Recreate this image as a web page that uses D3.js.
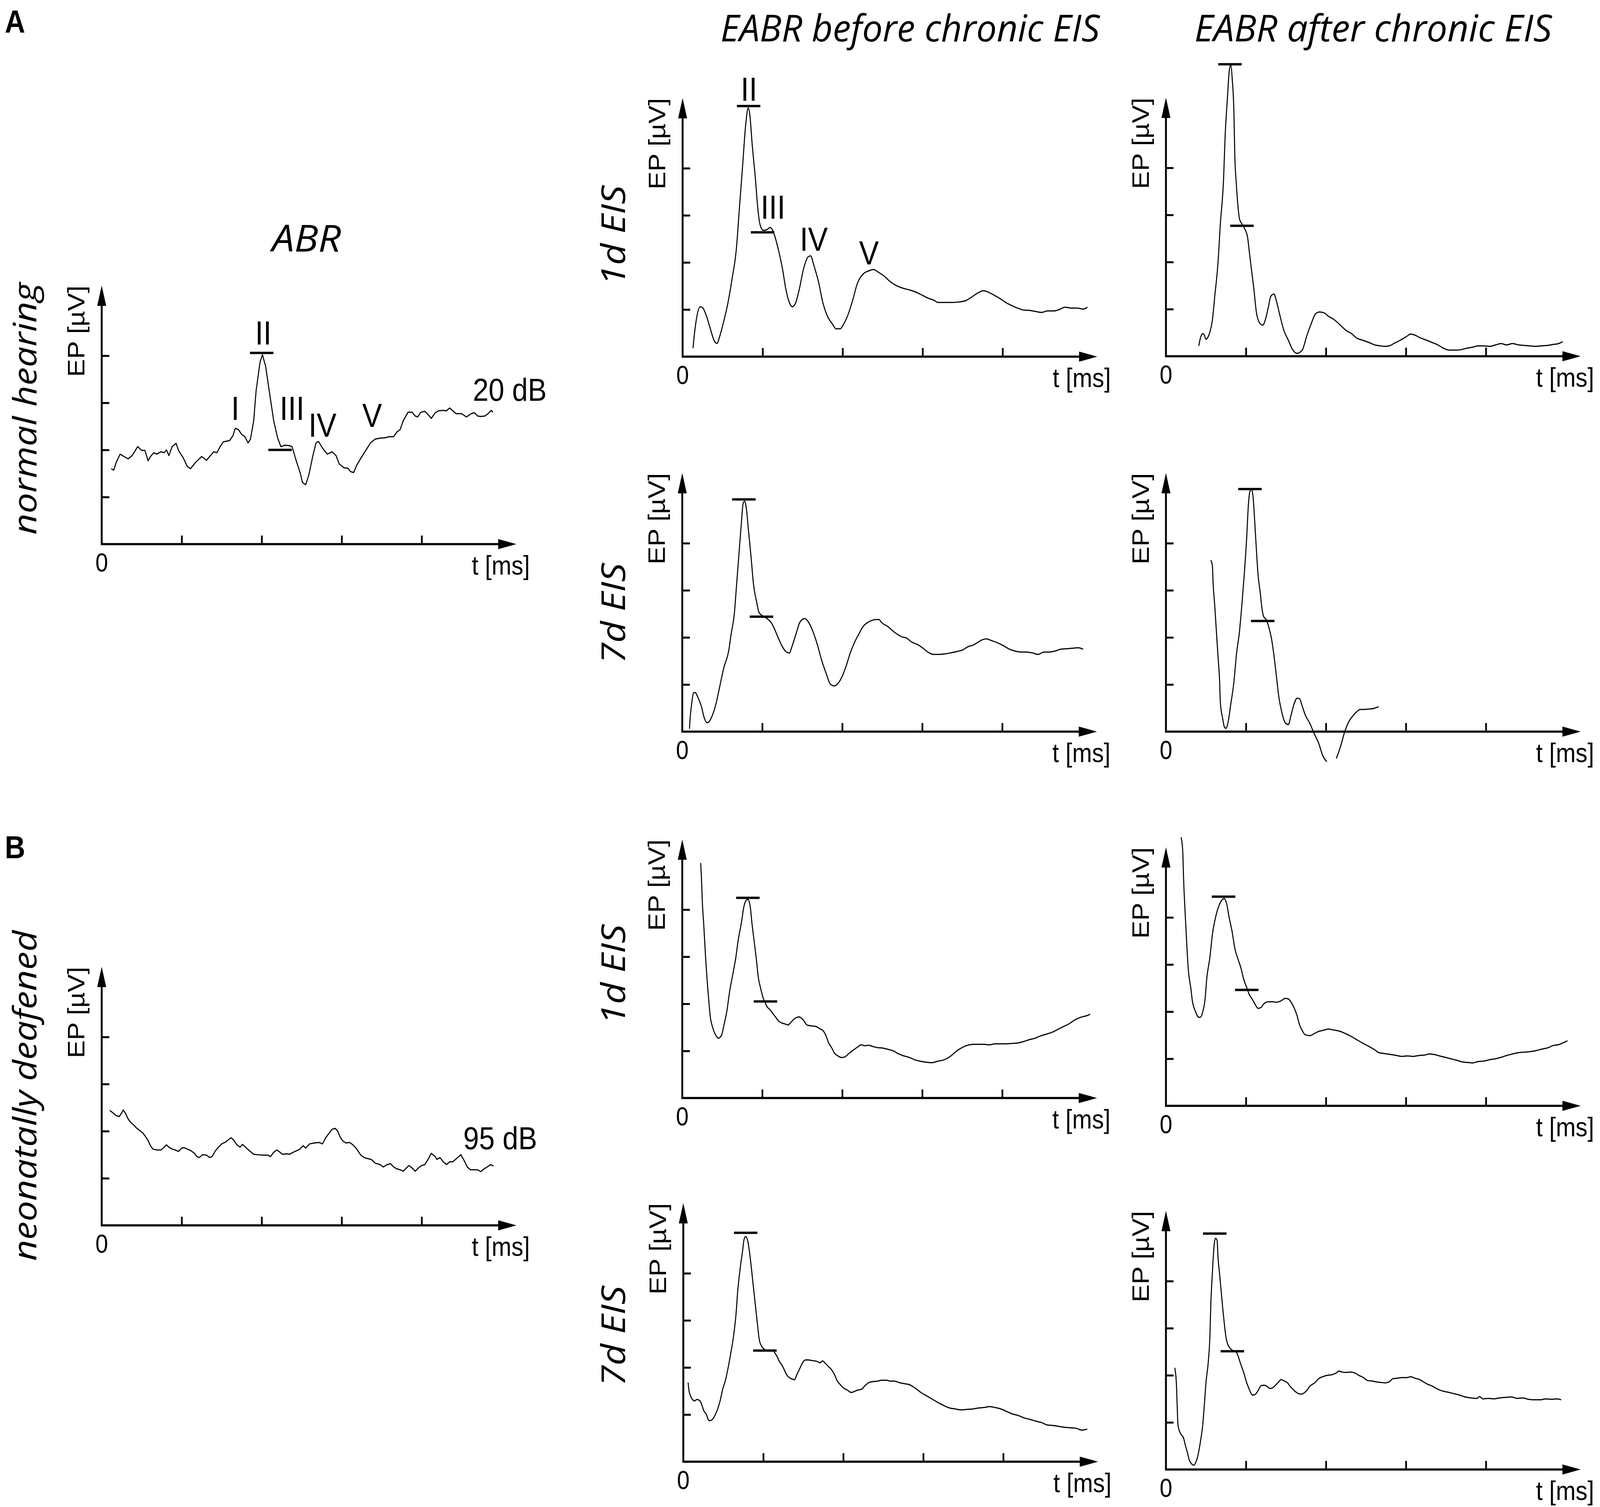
<!DOCTYPE html>
<html>
<head>
<meta charset="utf-8">
<script src="https://cdn.jsdelivr.net/npm/d3@7"></script>
<style>
html, body { margin: 0; padding: 0; background: #fff; overflow: hidden; }
#chart { width: 100vw; height: 100vh; }
svg { display: block; width: 100vw; height: 100vh; }
.ttl { font-family: "Open Sans", "DejaVu Sans", sans-serif; font-style: italic; fill: #000; }
.ax { font-family: "Liberation Sans", Arial, sans-serif; fill: #000; }
</style>
</head>
<body>
<div id="chart"></div>
<script>
// traces, [t, EP] in tick units (1 tick = 1 unit)
const abrNormal = [[0.12,1.60],[0.15,1.57],[0.18,1.73],[0.23,1.91],[0.28,1.86],[0.33,1.81],[0.38,1.88],[0.45,2.07],[0.50,1.99],[0.54,1.99],[0.58,1.77],[0.61,1.86],[0.65,1.94],[0.69,1.91],[0.74,1.96],[0.78,1.94],[0.81,2.00],[0.84,1.88],[0.88,2.07],[0.93,2.14],[0.96,1.99],[1.02,1.83],[1.07,1.65],[1.11,1.60],[1.17,1.73],[1.25,1.86],[1.31,1.78],[1.36,1.88],[1.40,1.96],[1.44,1.94],[1.48,2.07],[1.52,2.17],[1.60,2.20],[1.64,2.30],[1.67,2.46],[1.71,2.43],[1.75,2.33],[1.79,2.28],[1.83,2.15],[1.86,2.23],[1.90,2.62],[1.93,3.25],[1.98,3.87],[2.01,4.02],[2.05,3.77],[2.10,3.19],[2.15,2.62],[2.20,2.25],[2.24,2.07],[2.29,2.10],[2.35,2.09],[2.38,2.07],[2.43,1.78],[2.48,1.52],[2.51,1.31],[2.55,1.26],[2.59,1.47],[2.64,1.88],[2.68,2.15],[2.71,2.18],[2.76,2.04],[2.82,1.91],[2.88,1.96],[2.93,1.88],[2.97,1.70],[3.03,1.62],[3.08,1.61],[3.11,1.54],[3.15,1.52],[3.19,1.68],[3.26,1.88],[3.32,2.04],[3.36,2.15],[3.42,2.23],[3.48,2.25],[3.55,2.26],[3.59,2.28],[3.65,2.28],[3.69,2.38],[3.73,2.43],[3.77,2.62],[3.83,2.80],[3.88,2.80],[3.92,2.72],[3.95,2.70],[3.99,2.80],[4.04,2.82],[4.08,2.75],[4.12,2.67],[4.17,2.79],[4.21,2.83],[4.27,2.84],[4.31,2.83],[4.35,2.89],[4.39,2.83],[4.43,2.77],[4.50,2.77],[4.56,2.70],[4.62,2.77],[4.66,2.79],[4.70,2.72],[4.74,2.71],[4.79,2.72],[4.83,2.77],[4.87,2.84],[4.89,2.80]];

const before1dNormal = [[0.13,0.18],[0.14,0.36],[0.17,0.77],[0.22,1.06],[0.25,1.04],[0.29,0.90],[0.34,0.63],[0.40,0.32],[0.43,0.28],[0.46,0.41],[0.51,0.72],[0.57,1.17],[0.62,1.67],[0.67,2.25],[0.71,3.15],[0.75,4.05],[0.79,4.95],[0.82,5.28],[0.84,5.14],[0.87,4.50],[0.91,3.78],[0.94,3.15],[0.97,2.79],[1.01,2.68],[1.06,2.70],[1.09,2.74],[1.12,2.70],[1.15,2.57],[1.20,2.25],[1.25,1.85],[1.29,1.44],[1.33,1.17],[1.37,1.06],[1.41,1.13],[1.46,1.44],[1.51,1.85],[1.57,2.12],[1.60,2.14],[1.64,1.94],[1.70,1.58],[1.75,1.17],[1.81,0.86],[1.87,0.70],[1.92,0.59],[1.97,0.59],[2.01,0.68],[2.07,0.90],[2.13,1.22],[2.18,1.53],[2.26,1.76],[2.31,1.81],[2.39,1.85],[2.44,1.80],[2.52,1.71],[2.59,1.60],[2.67,1.51],[2.76,1.45],[2.85,1.41],[2.93,1.36],[3.00,1.30],[3.07,1.24],[3.15,1.19],[3.19,1.15],[3.26,1.15],[3.35,1.15],[3.45,1.16],[3.54,1.19],[3.61,1.26],[3.69,1.35],[3.76,1.40],[3.82,1.37],[3.89,1.31],[3.97,1.23],[4.04,1.15],[4.12,1.08],[4.19,1.03],[4.26,0.99],[4.34,0.98],[4.41,0.96],[4.49,0.94],[4.56,0.97],[4.64,0.97],[4.71,1.00],[4.78,1.05],[4.86,1.03],[4.93,1.03],[5.01,1.01],[5.06,1.05]];

const after1dNormal = [[0.41,0.22],[0.43,0.38],[0.46,0.48],[0.48,0.45],[0.50,0.36],[0.52,0.39],[0.55,0.52],[0.58,0.76],[0.61,1.27],[0.65,1.97],[0.68,2.81],[0.72,3.75],[0.74,4.68],[0.77,5.52],[0.79,6.04],[0.81,6.18],[0.83,5.85],[0.85,5.15],[0.86,4.31],[0.88,3.65],[0.90,3.19],[0.92,2.91],[0.95,2.81],[0.98,2.72],[1.02,2.53],[1.04,2.25],[1.07,1.83],[1.10,1.41],[1.13,0.94],[1.17,0.71],[1.21,0.66],[1.24,0.76],[1.28,1.04],[1.31,1.27],[1.35,1.32],[1.38,1.18],[1.42,0.90],[1.47,0.57],[1.53,0.34],[1.58,0.15],[1.64,0.06],[1.67,0.08],[1.71,0.15],[1.76,0.43],[1.82,0.71],[1.87,0.90],[1.92,0.94],[1.98,0.92],[2.03,0.85],[2.10,0.78],[2.18,0.66],[2.25,0.55],[2.32,0.48],[2.39,0.38],[2.46,0.34],[2.54,0.29],[2.61,0.24],[2.68,0.22],[2.73,0.21],[2.79,0.22],[2.86,0.28],[2.93,0.34],[3.00,0.41],[3.06,0.47],[3.11,0.45],[3.18,0.39],[3.26,0.34],[3.33,0.29],[3.40,0.24],[3.47,0.17],[3.54,0.13],[3.62,0.13],[3.69,0.14],[3.76,0.17],[3.83,0.19],[3.90,0.22],[3.97,0.22],[4.05,0.21],[4.12,0.24],[4.19,0.27],[4.26,0.24],[4.33,0.27],[4.41,0.24],[4.48,0.23],[4.55,0.22],[4.62,0.21],[4.69,0.22],[4.77,0.23],[4.84,0.25],[4.91,0.27],[4.96,0.31]];

const before7dNormal = [[0.09,0.06],[0.10,0.32],[0.12,0.62],[0.14,0.82],[0.16,0.83],[0.20,0.71],[0.24,0.53],[0.27,0.32],[0.31,0.19],[0.33,0.20],[0.37,0.32],[0.42,0.58],[0.47,0.97],[0.52,1.36],[0.58,1.71],[0.61,2.06],[0.65,2.49],[0.68,3.14],[0.71,3.80],[0.74,4.45],[0.76,4.84],[0.78,4.89],[0.80,4.75],[0.83,4.23],[0.86,3.71],[0.89,3.14],[0.93,2.75],[0.96,2.53],[1.01,2.45],[1.06,2.40],[1.11,2.32],[1.15,2.19],[1.19,2.03],[1.24,1.84],[1.29,1.71],[1.34,1.67],[1.37,1.80],[1.42,2.06],[1.47,2.32],[1.53,2.40],[1.58,2.32],[1.63,2.14],[1.69,1.84],[1.74,1.53],[1.80,1.23],[1.85,1.01],[1.90,0.97],[1.94,1.01],[1.99,1.14],[2.05,1.40],[2.10,1.67],[2.15,1.88],[2.21,2.08],[2.26,2.23],[2.32,2.32],[2.37,2.36],[2.42,2.38],[2.46,2.38],[2.49,2.32],[2.57,2.23],[2.66,2.10],[2.75,2.01],[2.80,1.99],[2.87,1.90],[2.94,1.85],[3.01,1.77],[3.07,1.69],[3.14,1.64],[3.21,1.64],[3.28,1.65],[3.35,1.67],[3.43,1.70],[3.50,1.73],[3.57,1.80],[3.64,1.84],[3.70,1.90],[3.75,1.95],[3.80,1.97],[3.87,1.93],[3.95,1.88],[4.02,1.82],[4.09,1.75],[4.16,1.71],[4.23,1.69],[4.30,1.69],[4.38,1.67],[4.45,1.64],[4.52,1.69],[4.59,1.69],[4.66,1.71],[4.73,1.75],[4.81,1.76],[4.88,1.77],[4.95,1.78],[5.01,1.75]];

// this trace is broken near its trough (null marks the gap)
const after7dNormal = [[0.56,3.64],[0.58,3.53],[0.59,3.14],[0.61,2.67],[0.63,2.14],[0.65,1.62],[0.67,1.10],[0.68,0.62],[0.71,0.27],[0.73,0.10],[0.75,0.07],[0.78,0.23],[0.81,0.58],[0.85,1.06],[0.88,1.62],[0.92,2.14],[0.95,2.71],[0.98,3.36],[1.01,4.14],[1.03,4.80],[1.05,5.10],[1.07,5.14],[1.09,4.97],[1.11,4.45],[1.13,3.88],[1.15,3.36],[1.18,2.93],[1.20,2.62],[1.22,2.45],[1.26,2.36],[1.29,2.19],[1.32,1.97],[1.35,1.62],[1.38,1.19],[1.41,0.75],[1.45,0.40],[1.49,0.19],[1.53,0.15],[1.56,0.32],[1.60,0.58],[1.64,0.71],[1.67,0.70],[1.70,0.56],[1.74,0.36],[1.80,0.17],[1.85,-0.03],[1.91,-0.25],[1.96,-0.51],[2.01,-0.64],null,[2.13,-0.57],[2.18,-0.33],[2.23,-0.03],[2.28,0.19],[2.34,0.34],[2.39,0.43],[2.43,0.47],[2.48,0.47],[2.54,0.48],[2.59,0.49],[2.66,0.53]];

const abrDeaf = [[0.10,2.44],[0.14,2.39],[0.18,2.33],[0.22,2.31],[0.25,2.39],[0.27,2.45],[0.30,2.37],[0.33,2.26],[0.36,2.19],[0.40,2.13],[0.44,2.06],[0.47,2.02],[0.51,1.97],[0.55,1.88],[0.58,1.80],[0.61,1.69],[0.64,1.62],[0.69,1.60],[0.74,1.60],[0.78,1.66],[0.81,1.71],[0.84,1.66],[0.88,1.62],[0.92,1.60],[0.96,1.57],[1.00,1.64],[1.03,1.65],[1.07,1.62],[1.12,1.58],[1.16,1.53],[1.19,1.46],[1.22,1.44],[1.26,1.50],[1.31,1.49],[1.35,1.44],[1.38,1.46],[1.42,1.58],[1.46,1.66],[1.50,1.73],[1.55,1.77],[1.60,1.84],[1.62,1.86],[1.65,1.81],[1.69,1.71],[1.73,1.66],[1.76,1.72],[1.81,1.64],[1.85,1.58],[1.90,1.51],[1.95,1.50],[2.02,1.49],[2.08,1.49],[2.11,1.46],[2.15,1.55],[2.19,1.60],[2.23,1.55],[2.26,1.51],[2.31,1.52],[2.35,1.51],[2.38,1.54],[2.43,1.58],[2.47,1.61],[2.52,1.69],[2.55,1.64],[2.60,1.73],[2.66,1.75],[2.72,1.76],[2.76,1.73],[2.80,1.86],[2.84,1.95],[2.88,2.04],[2.92,2.06],[2.95,2.00],[2.98,1.88],[3.01,1.80],[3.05,1.75],[3.10,1.76],[3.14,1.71],[3.18,1.64],[3.24,1.49],[3.28,1.44],[3.32,1.42],[3.37,1.40],[3.42,1.32],[3.48,1.29],[3.52,1.24],[3.57,1.29],[3.61,1.31],[3.65,1.24],[3.69,1.20],[3.73,1.18],[3.77,1.15],[3.81,1.22],[3.84,1.27],[3.88,1.22],[3.92,1.15],[3.96,1.22],[4.00,1.27],[4.04,1.29],[4.08,1.40],[4.12,1.53],[4.17,1.46],[4.19,1.40],[4.23,1.44],[4.27,1.35],[4.31,1.29],[4.35,1.35],[4.39,1.35],[4.45,1.44],[4.49,1.50],[4.53,1.38],[4.57,1.24],[4.61,1.18],[4.66,1.18],[4.70,1.18],[4.74,1.14],[4.78,1.20],[4.82,1.24],[4.86,1.29],[4.90,1.26]];

const before1dDeaf = [[0.23,4.99],[0.24,4.66],[0.25,4.20],[0.27,3.64],[0.29,3.03],[0.31,2.52],[0.33,2.10],[0.35,1.73],[0.38,1.50],[0.42,1.33],[0.45,1.27],[0.49,1.33],[0.52,1.54],[0.56,1.87],[0.59,2.24],[0.63,2.61],[0.67,2.99],[0.70,3.36],[0.74,3.73],[0.77,4.06],[0.80,4.20],[0.82,4.22],[0.85,4.06],[0.87,3.73],[0.90,3.31],[0.93,2.89],[0.95,2.57],[0.98,2.33],[1.01,2.13],[1.04,2.01],[1.06,1.94],[1.10,1.87],[1.13,1.80],[1.17,1.71],[1.20,1.64],[1.25,1.59],[1.29,1.57],[1.32,1.55],[1.36,1.61],[1.40,1.68],[1.46,1.72],[1.48,1.71],[1.52,1.64],[1.56,1.55],[1.62,1.53],[1.67,1.52],[1.72,1.47],[1.76,1.43],[1.80,1.31],[1.83,1.17],[1.87,1.06],[1.90,0.96],[1.95,0.89],[1.99,0.86],[2.03,0.87],[2.08,0.94],[2.14,1.02],[2.19,1.08],[2.24,1.13],[2.28,1.11],[2.33,1.12],[2.39,1.09],[2.44,1.07],[2.51,1.06],[2.58,1.03],[2.64,1.00],[2.69,0.95],[2.76,0.90],[2.84,0.86],[2.91,0.81],[2.98,0.78],[3.05,0.76],[3.12,0.75],[3.19,0.78],[3.27,0.81],[3.34,0.87],[3.39,0.94],[3.44,1.01],[3.52,1.09],[3.59,1.13],[3.66,1.14],[3.77,1.14],[3.84,1.13],[3.91,1.15],[3.98,1.15],[4.05,1.15],[4.13,1.16],[4.20,1.17],[4.27,1.20],[4.34,1.24],[4.41,1.27],[4.48,1.32],[4.56,1.36],[4.63,1.40],[4.70,1.46],[4.77,1.52],[4.84,1.58],[4.91,1.66],[4.99,1.72],[5.06,1.75],[5.10,1.78]];

const after1dDeaf = [[0.19,5.70],[0.21,5.40],[0.22,4.84],[0.24,4.09],[0.26,3.44],[0.28,2.88],[0.31,2.51],[0.33,2.23],[0.37,2.00],[0.41,1.88],[0.43,1.88],[0.46,2.00],[0.49,2.28],[0.51,2.70],[0.55,3.16],[0.58,3.63],[0.62,4.00],[0.67,4.28],[0.70,4.37],[0.73,4.40],[0.76,4.28],[0.79,4.00],[0.83,3.67],[0.86,3.35],[0.90,3.12],[0.94,2.91],[0.97,2.70],[1.01,2.51],[1.04,2.37],[1.08,2.26],[1.12,2.14],[1.15,2.07],[1.19,2.09],[1.22,2.16],[1.28,2.21],[1.33,2.21],[1.38,2.20],[1.44,2.23],[1.49,2.28],[1.53,2.27],[1.56,2.21],[1.60,2.09],[1.64,1.91],[1.67,1.72],[1.71,1.58],[1.74,1.51],[1.80,1.49],[1.85,1.53],[1.91,1.58],[1.96,1.60],[2.03,1.63],[2.10,1.61],[2.18,1.58],[2.25,1.53],[2.32,1.47],[2.39,1.40],[2.46,1.33],[2.54,1.26],[2.61,1.19],[2.66,1.13],[2.73,1.11],[2.81,1.09],[2.88,1.07],[2.95,1.05],[3.02,1.06],[3.09,1.05],[3.17,1.07],[3.24,1.08],[3.29,1.10],[3.35,1.09],[3.42,1.06],[3.49,1.03],[3.56,1.00],[3.63,0.97],[3.71,0.93],[3.78,0.92],[3.83,0.91],[3.90,0.94],[3.97,0.95],[4.05,0.98],[4.12,1.00],[4.19,1.03],[4.26,1.07],[4.33,1.10],[4.41,1.13],[4.48,1.14],[4.55,1.15],[4.62,1.17],[4.69,1.20],[4.77,1.23],[4.84,1.28],[4.91,1.30],[4.98,1.35],[5.02,1.38]];

const before7dDeaf = [[0.06,1.68],[0.07,1.52],[0.09,1.40],[0.12,1.31],[0.14,1.29],[0.17,1.32],[0.21,1.29],[0.23,1.21],[0.26,1.07],[0.29,1.00],[0.31,0.90],[0.33,0.87],[0.37,0.91],[0.40,1.00],[0.43,1.12],[0.46,1.29],[0.49,1.52],[0.53,1.75],[0.56,1.99],[0.59,2.27],[0.63,2.69],[0.66,3.15],[0.68,3.62],[0.71,4.09],[0.74,4.46],[0.76,4.72],[0.78,4.78],[0.81,4.65],[0.84,4.28],[0.87,3.81],[0.90,3.34],[0.93,2.87],[0.95,2.59],[0.98,2.45],[1.02,2.38],[1.06,2.36],[1.12,2.37],[1.14,2.32],[1.17,2.24],[1.20,2.13],[1.23,2.06],[1.26,1.96],[1.29,1.85],[1.33,1.78],[1.37,1.75],[1.39,1.74],[1.42,1.85],[1.46,1.99],[1.49,2.10],[1.53,2.16],[1.56,2.16],[1.60,2.15],[1.64,2.14],[1.67,2.13],[1.71,2.10],[1.74,2.14],[1.78,2.08],[1.82,2.01],[1.85,1.96],[1.89,1.85],[1.92,1.73],[1.96,1.64],[2.00,1.57],[2.05,1.52],[2.10,1.47],[2.18,1.52],[2.23,1.54],[2.27,1.61],[2.32,1.68],[2.37,1.70],[2.43,1.71],[2.48,1.73],[2.54,1.73],[2.59,1.71],[2.64,1.71],[2.70,1.68],[2.75,1.66],[2.82,1.64],[2.90,1.56],[2.97,1.47],[3.04,1.40],[3.11,1.33],[3.18,1.26],[3.26,1.19],[3.33,1.14],[3.40,1.12],[3.47,1.10],[3.54,1.11],[3.62,1.12],[3.69,1.14],[3.76,1.15],[3.83,1.17],[3.90,1.15],[3.97,1.12],[4.05,1.06],[4.12,1.01],[4.19,0.98],[4.26,0.93],[4.33,0.90],[4.41,0.86],[4.48,0.83],[4.55,0.78],[4.62,0.77],[4.69,0.75],[4.77,0.73],[4.84,0.72],[4.91,0.71],[4.98,0.67],[5.05,0.69]];

const after7dDeaf = [[0.11,2.16],[0.13,1.84],[0.14,1.37],[0.15,0.95],[0.18,0.77],[0.22,0.67],[0.24,0.53],[0.27,0.35],[0.29,0.21],[0.32,0.12],[0.35,0.09],[0.37,0.14],[0.40,0.30],[0.43,0.58],[0.46,0.95],[0.48,1.37],[0.50,1.84],[0.53,2.30],[0.55,2.86],[0.56,3.47],[0.58,4.16],[0.60,4.72],[0.62,4.91],[0.64,4.86],[0.65,4.53],[0.67,4.16],[0.69,3.79],[0.71,3.42],[0.73,3.09],[0.75,2.81],[0.77,2.67],[0.80,2.58],[0.83,2.53],[0.87,2.51],[0.90,2.42],[0.93,2.26],[0.97,2.07],[1.01,1.84],[1.05,1.67],[1.08,1.58],[1.12,1.60],[1.16,1.70],[1.19,1.78],[1.23,1.79],[1.26,1.77],[1.30,1.72],[1.34,1.74],[1.37,1.79],[1.41,1.86],[1.44,1.91],[1.48,1.88],[1.52,1.84],[1.55,1.77],[1.59,1.70],[1.62,1.65],[1.66,1.61],[1.69,1.60],[1.73,1.63],[1.77,1.70],[1.80,1.77],[1.86,1.84],[1.91,1.93],[1.96,1.97],[2.02,2.00],[2.07,2.01],[2.13,2.05],[2.16,2.09],[2.20,2.07],[2.25,2.06],[2.31,2.07],[2.36,2.05],[2.41,2.00],[2.47,1.95],[2.52,1.89],[2.57,1.88],[2.63,1.86],[2.68,1.85],[2.74,1.84],[2.79,1.86],[2.84,1.93],[2.90,1.94],[2.95,1.95],[3.01,1.95],[3.06,1.97],[3.11,1.94],[3.17,1.91],[3.22,1.86],[3.27,1.81],[3.33,1.77],[3.38,1.72],[3.45,1.67],[3.53,1.64],[3.60,1.61],[3.67,1.58],[3.74,1.54],[3.81,1.52],[3.89,1.51],[3.92,1.55],[3.96,1.50],[4.03,1.51],[4.10,1.50],[4.17,1.52],[4.24,1.53],[4.32,1.54],[4.39,1.51],[4.46,1.52],[4.53,1.49],[4.60,1.48],[4.68,1.48],[4.75,1.50],[4.82,1.49],[4.89,1.50],[4.94,1.48]];

// latency markers (wave II peak and wave III), [t, EP]
const abrNormalBars = [[2.0,4.06],[2.23,2.0]];
const before1dNormalBars = [[0.825,5.32],[1.0,2.64]];
const after1dNormalBars = [[0.80,6.20],[0.95,2.77]];
const before7dNormalBars = [[0.77,4.93],[0.99,2.44]];
const after7dNormalBars = [[1.05,5.15],[1.21,2.35]];
const before1dDeafBars = [[0.82,4.25],[1.04,2.05]];
const after1dDeafBars = [[0.72,4.44],[1.01,2.46]];
const before7dDeafBars = [[0.78,4.86],[1.02,2.36]];
const after7dDeafBars = [[0.61,5.01],[0.83,2.51]];

// wave labels [text, t, EP]
const abrNormalWaves = [["I",1.67,2.64],["II",2.02,4.24],["III",2.38,2.64],["IV",2.76,2.28],["V",3.38,2.49]];
const before1dNormalWaves = [["II",0.83,5.43],["III",1.13,2.93],["IV",1.64,2.25],["V",2.33,1.96]];

// stimulus level labels [text, t, EP]
const abrNormalLevel = ["20 dB",4.64,3.04];
const abrDeafLevel = ["95 dB",4.52,1.62];

const tickValues = [1,2,3,4];
const columnTitles = ["ABR","EABR before chronic EIS","EABR after chronic EIS"];
const rowTitles = ["1d EIS","7d EIS","1d EIS","7d EIS"];
const groupTitles = ["normal hearing","neonatally deafened"];
const panelLetters = ["A","B"];

// layout (drawing units = reference pixels)
const W = 4641, H = 3858;
const axW = 1203, axH = 662, tMax = 5.185, vMax = 5.49;

const panels = [
  {trace: abrNormal, bars: abrNormalBars, waves: abrNormalWaves, level: abrNormalLevel, ox: 295, oy: 1393, curve: d3.curveLinear},
  {trace: before1dNormal, bars: before1dNormalBars, waves: before1dNormalWaves, ox: 1980, oy: 913},
  {trace: after1dNormal, bars: after1dNormalBars, ox: 3382, oy: 912},
  {trace: before7dNormal, bars: before7dNormalBars, ox: 1979, oy: 1873},
  {trace: after7dNormal, bars: after7dNormalBars, ox: 3382, oy: 1873},
  {trace: abrDeaf, level: abrDeafLevel, ox: 295, oy: 3137, curve: d3.curveLinear},
  {trace: before1dDeaf, bars: before1dDeafBars, ox: 1979, oy: 2811},
  {trace: after1dDeaf, bars: after1dDeafBars, ox: 3382, oy: 2831},
  {trace: before7dDeaf, bars: before7dDeafBars, ox: 1982, oy: 3742},
  {trace: after7dDeaf, bars: after7dDeafBars, ox: 3382, oy: 3762}
];

// the svg scales to whatever the window is, drawing stays in reference pixels
const svg = d3.select("#chart").append("svg")
    .attr("viewBox", "0 0 " + W + " " + H)
    .attr("preserveAspectRatio", "none")
    .style("background", "#fff");

function drawPanel(p) {
    var x = d3.scaleLinear().domain([0, tMax]).range([p.ox, p.ox + axW]);
    var y = d3.scaleLinear().domain([0, vMax]).range([p.oy, p.oy - axH]);
    var g = svg.append("g");

    // ticks point inwards
    g.append("g")
        .attr("transform", "translate(0," + p.oy + ")")
        .call(d3.axisBottom(x).tickValues(tickValues).tickSize(-22).tickSizeOuter(0).tickFormat(""))
        .call(function (a) { a.select(".domain").remove(); });
    g.append("g")
        .attr("transform", "translate(" + p.ox + ",0)")
        .call(d3.axisLeft(y).tickValues(tickValues).tickSize(-22).tickSizeOuter(0).tickFormat(""))
        .call(function (a) { a.select(".domain").remove(); });
    g.selectAll(".tick line").attr("stroke", "#000").attr("stroke-width", 5);

    var tipX = x(tMax), tipY = y(vMax);
    g.append("path")
        .attr("d", "M" + p.ox + "," + (tipY + 40) + "V" + p.oy + "H" + (tipX - 40))
        .attr("fill", "none").attr("stroke", "#000").attr("stroke-width", 5.5)
        .attr("stroke-linejoin", "miter");
    g.append("path")
        .attr("d", "M" + p.ox + "," + tipY + "L" + (p.ox - 13) + "," + (tipY + 52) + "L" + (p.ox + 13) + "," + (tipY + 52) + "Z")
        .attr("fill", "#000");
    g.append("path")
        .attr("d", "M" + tipX + "," + p.oy + "L" + (tipX - 53) + "," + (p.oy - 13) + "L" + (tipX - 53) + "," + (p.oy + 13) + "Z")
        .attr("fill", "#000");

    // axis labels
    g.append("text").attr("class", "ax")
        .attr("transform", "translate(" + (p.ox - 50) + "," + tipY + ") rotate(-90)")
        .attr("text-anchor", "end")
        .attr("font-size", 69)
        .text("EP [µV]");
    g.append("text").attr("class", "ax")
        .attr("x", p.ox + 1242).attr("y", p.oy + 78)
        .attr("text-anchor", "end")
        .attr("font-size", 69)
        .text("t [ms]");
    g.append("text").attr("class", "ax")
        .attr("x", p.ox).attr("y", p.oy + 70)
        .attr("text-anchor", "middle")
        .attr("font-size", 66)
        .text("0");

    // trace
    var line = d3.line()
        .defined(function (d) { return d !== null; })
        .x(function (d) { return x(d[0]); })
        .y(function (d) { return y(d[1]); })
        .curve(p.curve || d3.curveMonotoneX);
    g.append("path")
        .datum(p.trace)
        .attr("d", line)
        .attr("fill", "none")
        .attr("stroke", "#000")
        .attr("stroke-width", 3)
        .attr("stroke-linejoin", "round");

    // latency bars
    g.selectAll(".bar")
        .data(p.bars || [])
        .enter().append("line")
        .attr("class", "bar")
        .attr("x1", function (d) { return x(d[0]) - 34; })
        .attr("x2", function (d) { return x(d[0]) + 34; })
        .attr("y1", function (d) { return y(d[1]); })
        .attr("y2", function (d) { return y(d[1]); })
        .attr("stroke", "#000")
        .attr("stroke-width", 6);

    g.selectAll(".wave")
        .data(p.waves || [])
        .enter().append("text")
        .attr("class", "ax wave")
        .attr("x", function (d) { return x(d[1]); })
        .attr("y", function (d) { return y(d[2]); })
        .attr("text-anchor", "middle")
        .attr("font-size", 86)
        .text(function (d) { return d[0]; });

    if (p.level) {
        g.append("text").attr("class", "ax")
            .attr("x", x(p.level[1]))
            .attr("y", y(p.level[2]))
            .attr("font-size", 82)
            .text(p.level[0]);
    }
}

panels.forEach(drawPanel);

// column titles
var titleX = [889, 2640, 3983], titleY = [644, 106, 106], titleLen = [200, 1100, 1037];
columnTitles.forEach(function (t, i) {
    svg.append("text").attr("class", "ttl")
        .attr("x", titleX[i]).attr("y", titleY[i])
        .attr("text-anchor", "middle")
        .attr("font-size", 96)
        .attr("textLength", titleLen[i])
        .attr("lengthAdjust", "spacingAndGlyphs")
        .text(t);
});

// row titles next to the "before" column
var rowY = [603, 1570, 2495, 3420];
rowTitles.forEach(function (t, i) {
    svg.append("text").attr("class", "ttl")
        .attr("transform", "translate(1813," + rowY[i] + ") rotate(-90)")
        .attr("text-anchor", "middle")
        .attr("font-size", 96)
        .text(t);
});

var groupY = [1046, 2805];
groupTitles.forEach(function (t, i) {
    svg.append("text").attr("class", "ttl")
        .attr("transform", "translate(105," + groupY[i] + ") rotate(-90)")
        .attr("text-anchor", "middle")
        .attr("font-size", 94)
        .text(t);
});

var letterY = [83, 2197];
panelLetters.forEach(function (t, i) {
    svg.append("text").attr("class", "ax")
        .attr("x", 14).attr("y", letterY[i])
        .attr("font-size", 82)
        .attr("font-weight", "bold")
        .text(t);
});
</script>
</body>
</html>
